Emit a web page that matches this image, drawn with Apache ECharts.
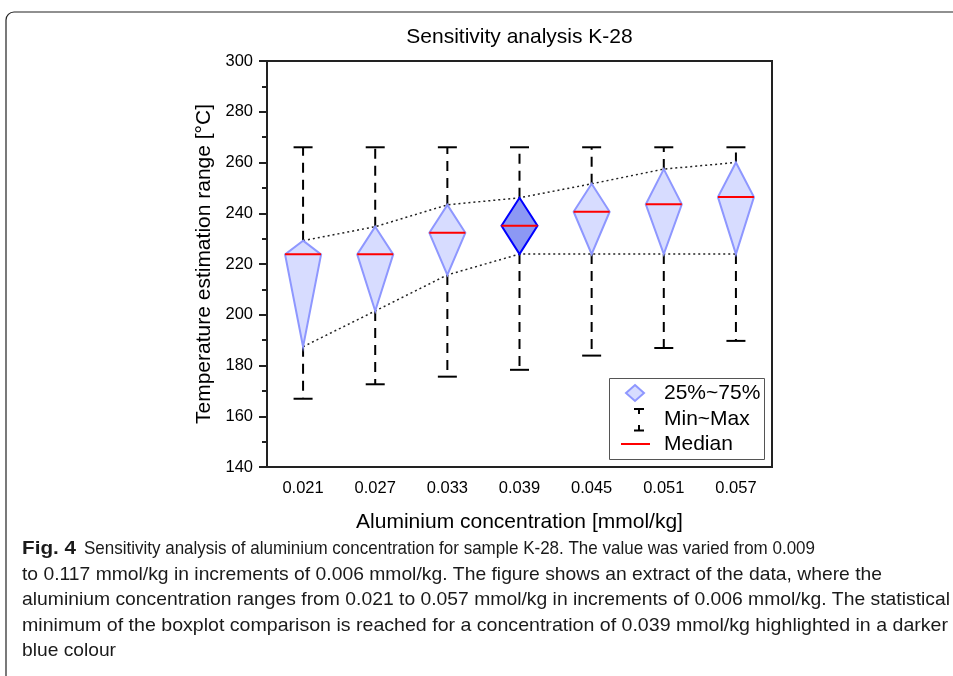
<!DOCTYPE html>
<html>
<head>
<meta charset="utf-8">
<script src="https://cdn.jsdelivr.net/npm/echarts@6/dist/echarts.min.js"></script>
<style>
html,body{margin:0;padding:0;background:#fff;}
#chart{width:953px;height:676px;}
</style>
</head>
<body>
<div id="chart"></div>
<script>
// ---- data ----
const categories = ['0.021', '0.027', '0.033', '0.039', '0.045', '0.051', '0.057'];
const maxValues = [266, 266, 266, 266, 266, 266, 266];
const q3Values = [229.2, 234.7, 243.3, 246.1, 251.6, 257.4, 260.0];
const medianValues = [223.8, 223.8, 232.3, 235.1, 240.6, 243.5, 246.4];
const q1Values = [187.4, 201.5, 215.7, 223.9, 223.9, 223.9, 223.9];
const minValues = [166.9, 172.6, 175.6, 178.3, 183.9, 186.9, 189.7];
const highlightIndex = 3;
const yMin = 140, yMax = 300, yInterval = 20;
const titleText = 'Sensitivity analysis K-28';
const xName = 'Aluminium concentration [mmol/kg]';
const yName = 'Temperature estimation range [°C]';
const legendLabels = ['25%~75%', 'Min~Max', 'Median'];
const captionLabel = 'Fig. 4';
const captionLines = [
  'Sensitivity analysis of aluminium concentration for sample K-28. The value was varied from 0.009',
  'to 0.117 mmol/kg in increments of 0.006 mmol/kg. The figure shows an extract of the data, where the',
  'aluminium concentration ranges from 0.021 to 0.057 mmol/kg in increments of 0.006 mmol/kg. The statistical',
  'minimum of the boxplot comparison is reached for a concentration of 0.039 mmol/kg highlighted in a darker',
  'blue colour'
];

// ---- layout (pixels) ----
const FONT = '"Liberation Sans", Arial, sans-serif';
const CAPFONT = '"Liberation Sans Narrow", "Liberation Sans", sans-serif';
const capSize = 19;
const capY = [549, 575, 600, 626, 651];
const capSpan = [[84, 815], [22, 882], [22, 950], [22, 948], [22, 116]];

const boxData = categories.map((c, i) => [i, minValues[i], q1Values[i], medianValues[i], q3Values[i], maxValues[i]]);

const mctx = document.createElement('canvas').getContext('2d');
function measure(text, font) { mctx.font = font; return mctx.measureText(text).width; }
const titleW = measure(titleText, '21px ' + FONT);

function renderItem(params, api) {
  const i = api.value(0);
  const cx = api.coord([i, api.value(3)])[0];
  const yMn = api.coord([i, api.value(1)])[1];
  const yQ1 = api.coord([i, api.value(2)])[1];
  const yMd = api.coord([i, api.value(3)])[1];
  const yQ3 = api.coord([i, api.value(4)])[1];
  const yMx = api.coord([i, api.value(5)])[1];
  const hw = 18, cap = 9.5;
  const hi = i === highlightIndex;
  const dash = {stroke: '#000', lineWidth: 2, lineDash: [10, 7]};
  const solid = {stroke: '#000', lineWidth: 2};
  return {
    type: 'group',
    children: [
      {type: 'line', shape: {x1: cx, y1: yQ3, x2: cx, y2: yMx}, style: dash},
      {type: 'line', shape: {x1: cx, y1: yQ1, x2: cx, y2: yMn}, style: dash},
      {type: 'line', shape: {x1: cx - cap, y1: yMx, x2: cx + cap, y2: yMx}, style: solid},
      {type: 'line', shape: {x1: cx - cap, y1: yMn, x2: cx + cap, y2: yMn}, style: solid},
      {type: 'polygon', shape: {points: [[cx, yQ3], [cx + hw, yMd], [cx, yQ1], [cx - hw, yMd]]},
        style: hi ? {fill: '#8c98f4', stroke: '#0000ff', lineWidth: 2}
                  : {fill: '#d7dcff', stroke: '#8e97ff', lineWidth: 2}},
      {type: 'line', shape: {x1: cx - hw, y1: yMd, x2: cx + hw, y2: yMd}, style: {stroke: '#ff0000', lineWidth: 2}}
    ]
  };
}

const graphics = [
  {type: 'rect', shape: {x: 6, y: 12, width: 1000, height: 720, r: 8}, style: {fill: 'none', stroke: '#222', lineWidth: 1.2}, silent: true, z: -10},
  // legend
  {type: 'rect', shape: {x: 609.5, y: 378.5, width: 155, height: 81}, style: {fill: '#fff', stroke: '#555', lineWidth: 1}, z: 50},
  {type: 'polygon', shape: {points: [[635, 385], [644, 393], [635, 401], [626, 393]]}, style: {fill: '#d7dcff', stroke: '#8e97ff', lineWidth: 2}, z: 51},
  {type: 'line', shape: {x1: 634, y1: 409, x2: 644, y2: 409}, style: {stroke: '#000', lineWidth: 2}, z: 51},
  {type: 'line', shape: {x1: 639, y1: 409, x2: 639, y2: 414}, style: {stroke: '#000', lineWidth: 2}, z: 51},
  {type: 'line', shape: {x1: 639, y1: 425, x2: 639, y2: 430}, style: {stroke: '#000', lineWidth: 2}, z: 51},
  {type: 'line', shape: {x1: 634, y1: 430.5, x2: 644, y2: 430.5}, style: {stroke: '#000', lineWidth: 2}, z: 51},
  {type: 'line', shape: {x1: 621, y1: 444, x2: 650, y2: 444}, style: {stroke: '#ff0000', lineWidth: 2}, z: 51}
];
legendLabels.forEach((t, k) => {
  graphics.push({type: 'text', x: 664, y: [393, 419, 444][k], z: 51,
    style: {text: t, fontSize: 21, fontFamily: FONT, fill: '#000', verticalAlign: 'middle'}});
});
// caption: bold label + each line fitted to its span
const labelW = measure(captionLabel, 'bold ' + capSize + 'px ' + CAPFONT);
graphics.push({type: 'text', x: 22, y: capY[0], scaleX: 54 / labelW, z: 51,
  style: {text: captionLabel, fontSize: capSize, fontWeight: 'bold', fontFamily: CAPFONT, fill: '#1a1a1a', verticalAlign: 'middle'}});
captionLines.forEach((t, k) => {
  const w = measure(t, capSize + 'px ' + CAPFONT);
  const s = (capSpan[k][1] - capSpan[k][0]) / w;
  graphics.push({type: 'text', x: capSpan[k][0], y: capY[k], scaleX: s, z: 51,
    style: {text: t, fontSize: capSize, fontFamily: CAPFONT, fill: '#1a1a1a', verticalAlign: 'middle'}});
});

const chart = echarts.init(document.getElementById('chart'), null, {renderer: 'canvas'});
chart.setOption({
  backgroundColor: '#fff',
  animation: false,
  title: {text: titleText, left: 519.5 - titleW / 2, top: 27, padding: 0,
    textStyle: {fontSize: 21, fontWeight: 'normal', fontFamily: FONT, color: '#000'}},
  grid: {left: 267, right: 181, top: 61, bottom: 209, show: true, borderColor: '#222', borderWidth: 2, backgroundColor: 'transparent'},
  xAxis: {
    type: 'category', data: categories, boundaryGap: true,
    axisLine: {lineStyle: {color: '#222', width: 2}},
    axisTick: {alignWithLabel: true, length: 7, lineStyle: {color: '#222', width: 2}},
    axisLabel: {fontSize: 16.5, fontFamily: FONT, color: '#000', margin: 13},
    name: xName, nameLocation: 'middle', nameGap: 45,
    nameTextStyle: {fontSize: 21, fontFamily: FONT, color: '#000'},
    splitLine: {show: false}
  },
  yAxis: {
    type: 'value', min: yMin, max: yMax, interval: yInterval,
    axisLine: {show: true, lineStyle: {color: '#222', width: 2}},
    axisTick: {show: true, length: 8, lineStyle: {color: '#222', width: 2}},
    minorTick: {show: true, splitNumber: 2, length: 5, lineStyle: {color: '#222', width: 2}},
    axisLabel: {fontSize: 16.5, fontFamily: FONT, color: '#000', margin: 14},
    name: yName, nameLocation: 'middle', nameGap: 42,
    nameTextStyle: {fontSize: 21, fontFamily: FONT, color: '#000'},
    splitLine: {show: false}
  },
  series: [
    {type: 'line', data: q3Values, symbol: 'none', silent: true, z: 1,
      lineStyle: {color: '#222', width: 1.5, type: [2, 3]}},
    {type: 'line', data: q1Values, symbol: 'none', silent: true, z: 1,
      lineStyle: {color: '#222', width: 1.5, type: [2, 3]}},
    {type: 'custom', data: boxData, renderItem: renderItem, z: 3,
      encode: {x: 0, y: [1, 2, 3, 4, 5]}}
  ],
  graphic: graphics
});
</script>
</body>
</html>
